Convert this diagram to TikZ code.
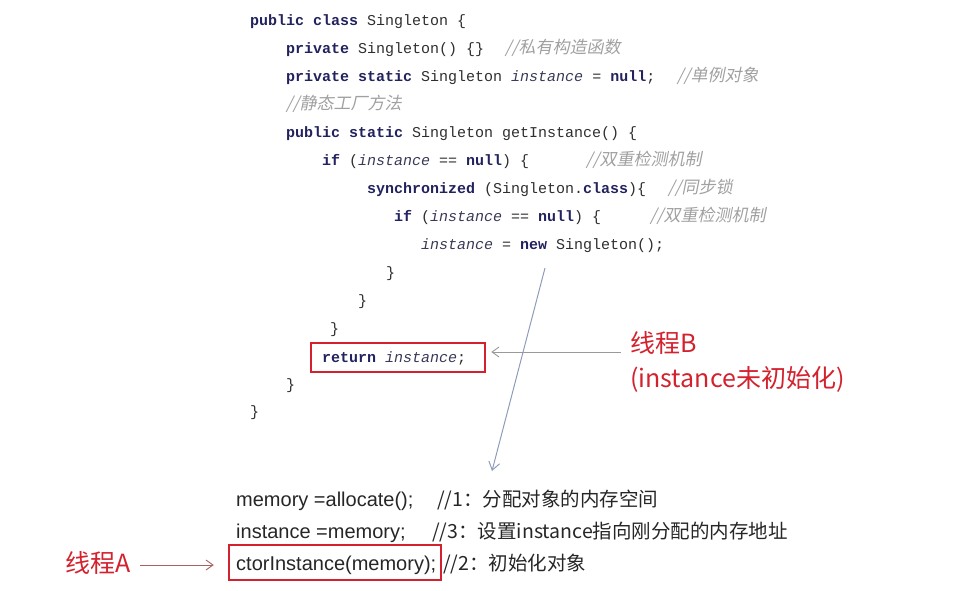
\documentclass[tikz,border=0pt]{standalone}
\usepackage{fontspec}
\setmainfont{Liberation Sans}
\setmonofont{Liberation Mono}
\newfontfamily\cjk{Noto Sans CJK SC}
\newfontfamily\cjksl[FakeSlant=0.2]{Noto Sans CJK SC}
\usetikzlibrary{arrows.meta}
\definecolor{kwc}{HTML}{22225E}
\definecolor{txtc}{HTML}{2E2E2E}
\definecolor{ivc}{HTML}{3A3A58}
\definecolor{cmc}{HTML}{A0A0A0}
\definecolor{redc}{HTML}{D3222E}
\definecolor{arrc}{HTML}{8E9CBA}
\definecolor{grayarr}{HTML}{9A9A9A}
\definecolor{brarr}{HTML}{A86060}
\newcommand\kwd[1]{{\bfseries\color{kwc}#1}}
\newcommand\ivar[1]{{\itshape\color{ivc}#1}}
\newcommand\cmt[1]{{\cjksl\fontsize{17}{20}\selectfont\color{cmc}#1}}
\begin{document}
\begin{tikzpicture}[x=1pt,y=-1pt,
  code/.style={anchor=base west, inner sep=0pt, font=\ttfamily\fontsize{15}{18}\selectfont, text=txtc},
  cmnt/.style={anchor=base west, inner sep=0pt},
  plain/.style={anchor=base west, inner sep=0pt, font=\fontsize{20}{24}\selectfont, text=black!85},
  plaincm/.style={anchor=base west, inner sep=0pt, font=\cjk\fontsize{19.5}{24}\selectfont, text=black!85},
  redlbl/.style={anchor=base west, inner sep=0pt, text=redc},
  redbox/.style={draw=redc, line width=2.5pt, inner sep=0pt},
  garrow/.style={draw=grayarr, line width=0.9pt, -{Straight Barb[length=7pt,width=10pt]}}
]
\useasboundingbox (0,0) rectangle (954,591);
% code
\node[code] (l1) at (250,26) {\kwd{public class} Singleton \{};
\node[code] (l2) at (286,54) {\kwd{private} Singleton() \{\}};
\node[cmnt] (c2) at (505,54) {\cmt{//私有构造函数}};
\node[code] (l3) at (286,82) {\kwd{private static} Singleton \ivar{instance} = \kwd{null};};
\node[cmnt] (c3) at (677,82) {\cmt{//单例对象}};
\node[cmnt] (l4) at (286,110) {\cmt{//静态工厂方法}};
\node[code] (l5) at (286,138) {\kwd{public static} Singleton getInstance() \{};
\node[code] (l6) at (322,166) {\kwd{if} (\ivar{instance} == \kwd{null}) \{};
\node[cmnt] (c6) at (586,166) {\cmt{//双重检测机制}};
\node[code] (l7) at (367,194) {\kwd{synchronized} (Singleton.\kwd{class})\{};
\node[cmnt] (c7) at (668,194) {\cmt{//同步锁}};
\node[code] (l8) at (394,222) {\kwd{if} (\ivar{instance} == \kwd{null}) \{};
\node[cmnt] (c8) at (650,222) {\cmt{//双重检测机制}};
\node[code] (l9) at (421,250) {\ivar{instance} = \kwd{new} Singleton();};
\node[code] (l10) at (386,277) {\}};
\node[code] (l11) at (358,305) {\}};
\node[code] (l12) at (330,333) {\}};
\node[code] (l13) at (322,362) {\kwd{return} \ivar{instance};};
\node[code] (l14) at (286,389) {\}};
\node[code] (l15) at (250,416) {\}};
% return box
\node[redbox, minimum width=174pt, minimum height=29pt] (ret) at (398,357.5) {};
% thread B label
\node[redlbl, font=\cjk\fontsize{25}{28}\selectfont] (lbB) at (630,352) {线程B};
\node[redlbl, font=\cjk\fontsize{25}{28}\selectfont] (lbB2) at (630,387) {(instance未初始化)};
\coordinate (bstart) at (621,352);
\draw[garrow] (bstart) -- ([xshift=5pt]ret.east |- bstart);
% long arrow
\coordinate (ltop) at (545,268);
\coordinate (lbot) at (492,471);
\draw[draw=arrc, line width=1pt, -{Straight Barb[length=8pt,width=11pt]}] (ltop) -- (lbot);
% bottom lines
\node[plain] (m1) at (236,506) {memory =allocate();};
\node[plaincm] (m1c) at (437,506) {//1：分配对象的内存空间};
\node[plain] (m2) at (236,538) {instance =memory;};
\node[plaincm] (m2c) at (432,538) {//3：设置instance指向刚分配的内存地址};
\node[plain] (m3) at (236,570) {ctorInstance(memory);};
\node[plaincm] (m3c) at (443,570) {//2：初始化对象};
\node[redbox, minimum width=212pt, minimum height=35pt] (ctor) at (335,562.5) {};
% thread A
\node[redlbl, font=\cjk\fontsize{25}{28}\selectfont] (lbA) at (65,572) {线程A};
\coordinate (astart) at (140,565);
\draw[draw=brarr, line width=0.9pt, -{Straight Barb[length=7pt,width=10pt]}] (astart) -- ([xshift=-14pt]ctor.west |- astart);
\end{tikzpicture}
\end{document}
